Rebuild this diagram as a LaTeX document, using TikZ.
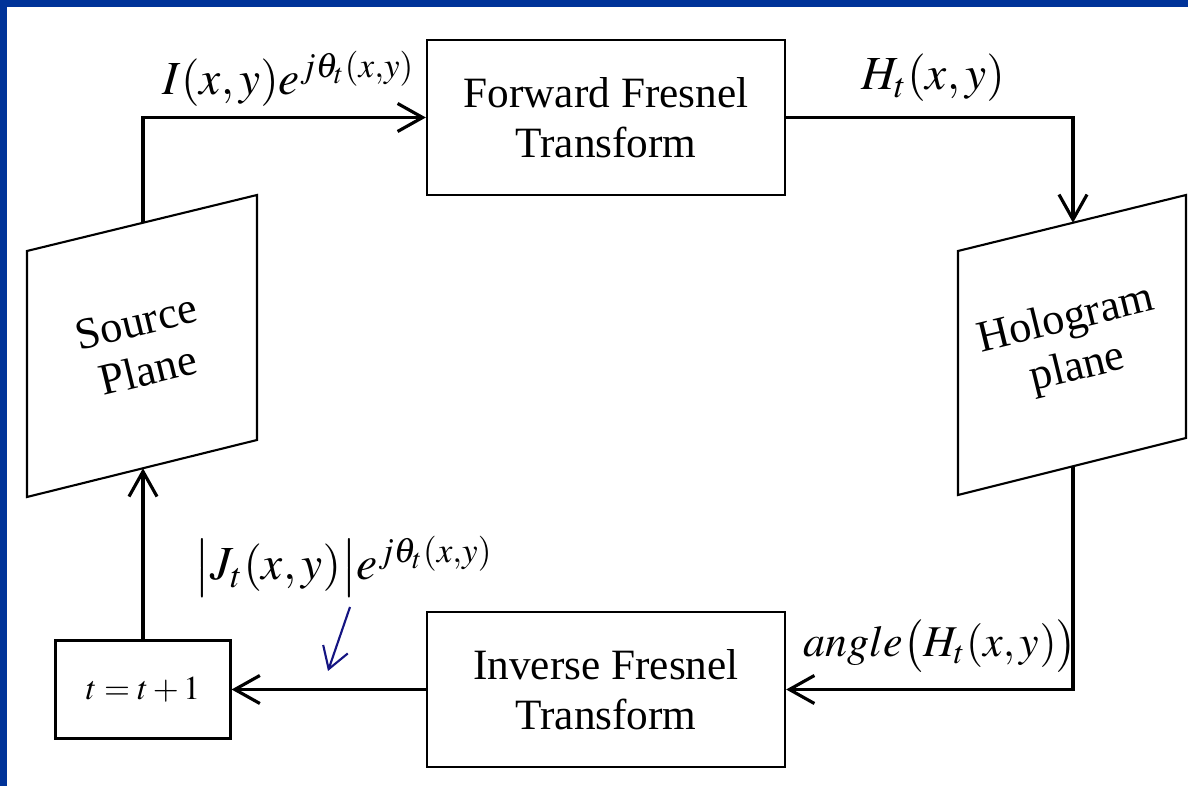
\documentclass[tikz,border=0pt]{standalone}
\usepackage{mathptmx}
\usepackage{fontspec}
\setmainfont{Liberation Serif}
\usetikzlibrary{arrows.meta}
\definecolor{FrameClr}{RGB}{0,51,153}
\definecolor{NoteClr}{RGB}{20,20,130}

\begin{document}
\begin{tikzpicture}[x=0.01cm,y=-0.01cm,
  block/.style={draw,line width=0.6pt,minimum width=3.58cm,minimum height=1.55cm,
    inner sep=0pt,align=center,font=\fontsize{12.3}{14.2}\selectfont},
  plane/.style={draw,line width=0.6pt,fill=white},
  planetext/.style={rotate=13.7,align=center,font=\fontsize{12.6}{14.2}\selectfont},
  flow/.style={line width=0.9pt,-{Straight Barb[length=2.5mm,width=2.8mm]}},
  note/.style={line width=0.6pt,color=NoteClr,-{Straight Barb[length=2.1mm,width=2.6mm]}},
  lbl/.style={font=\fontsize{13.5}{16}\selectfont,inner sep=0pt}]

\useasboundingbox (0,0) rectangle (1188,786);
\fill[white] (0,0) rectangle (1188,786);
\fill[FrameClr] (0,0) rectangle (1188,7);
\fill[FrameClr] (0,0) rectangle (7,786);

\coordinate (S1) at (27,251);
\coordinate (S2) at (257,195);
\coordinate (S3) at (257,440);
\coordinate (S4) at (27,497);
\coordinate (H1) at (958,251);
\coordinate (H2) at (1186,195);
\coordinate (H3) at (1186,438);
\coordinate (H4) at (958,495);

\draw[plane] (S1) -- (S2) -- (S3) -- (S4) -- cycle;
\draw[plane] (H1) -- (H2) -- (H3) -- (H4) -- cycle;
\node[planetext] (src) at (142,346) {Source\\Plane};
\node[planetext] (holo) at (1072,345) {Hologram\\plane};

\coordinate (srcT) at (143,222.8);
\coordinate (srcB) at (143,468.3);
\coordinate (holT) at (1073,222.8);
\coordinate (holB) at (1073,466.3);

\node[block] (fwd) at (606,117.5) {Forward Fresnel\\Transform};
\node[block] (inv) at (606,689.5) {Inverse Fresnel\\Transform};
\node[draw,line width=0.6pt,minimum width=1.75cm,minimum height=0.98cm,inner sep=0pt,
  font=\fontsize{9.5}{11}\selectfont] (tbox) at (143,689.5) {$t=t+1$};

\draw[flow] (srcT) |- (fwd.west);
\draw[flow] (fwd.east) -| (holT);
\draw[flow] (holB) |- (inv.east);
\draw[flow] (inv.west) -- (tbox.east);
\draw[flow] (tbox.north) -- (srcB);

\node[lbl,anchor=base] (inlbl) at (289,95) {$I(x,y)e^{j\theta_t(x,y)}$};
\node[lbl,anchor=base] (hlbl) at (933,90) {$H_t(x,y)$};
\node[lbl,anchor=base] (jlbl) at (344,580) {$\bigl|J_t(x,y)\bigr|e^{j\theta_t(x,y)}$};
\node[lbl,anchor=base,font=\fontsize{12.5}{15}\selectfont] (albl) at (940,657)
  {$angle\bigl(H_t(x,y)\bigr)$};

\coordinate (noteS) at (350,607);
\coordinate (noteE) at (328,671);
\draw[note] (noteS) -- (noteE);

\end{tikzpicture}
\end{document}
